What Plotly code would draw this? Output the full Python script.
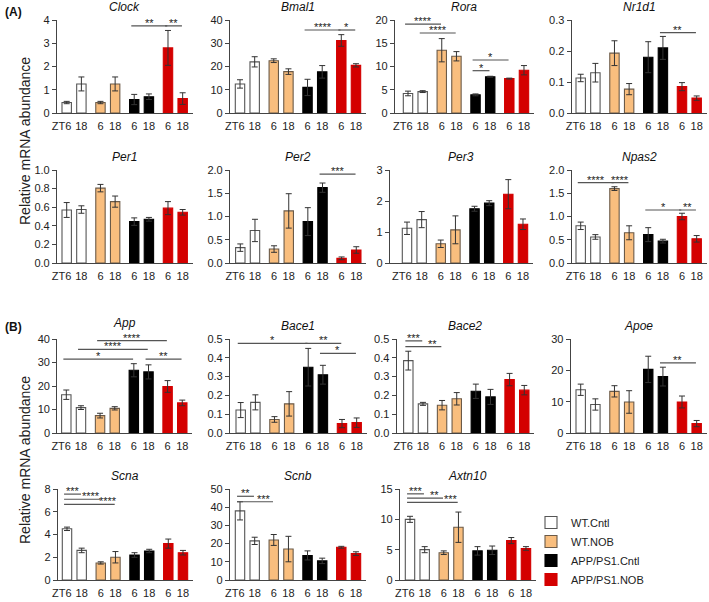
import plotly.graph_objects as go

# ---------------- data ----------------
GROUPS = ["WT.Cntl", "WT.NOB", "APP/PS1.Cntl", "APP/PS1.NOB"]
TIME_LABELS = ["ZT6", "18", "6", "18", "6", "18", "6", "18"]
# bar order: WT6, WT18, NOB6, NOB18, APP6, APP18, APPNOB6, APPNOB18

clock_mean = [0.45, 1.25, 0.45, 1.25, 0.58, 0.70, 2.80, 0.62]
clock_err = [0.05, 0.30, 0.05, 0.30, 0.22, 0.12, 0.75, 0.25]
bmal1_mean = [12.5, 22.0, 22.5, 17.8, 11.0, 17.7, 31.2, 20.5]
bmal1_err = [1.8, 2.2, 0.8, 1.2, 3.5, 2.7, 2.5, 0.7]
rora_mean = [4.2, 4.6, 13.5, 12.2, 3.9, 7.8, 7.4, 9.2]
rora_err = [0.5, 0.2, 2.5, 1.0, 0.2, 0.1, 0.1, 1.0]
nr1d1_mean = [0.113, 0.130, 0.193, 0.077, 0.180, 0.210, 0.085, 0.048]
nr1d1_err = [0.012, 0.030, 0.040, 0.018, 0.050, 0.037, 0.013, 0.007]
per1_mean = [0.57, 0.575, 0.805, 0.66, 0.445, 0.47, 0.59, 0.545]
per1_err = [0.08, 0.04, 0.04, 0.06, 0.04, 0.02, 0.07, 0.03]
per2_mean = [0.33, 0.70, 0.30, 1.12, 0.89, 1.62, 0.10, 0.28]
per2_err = [0.08, 0.24, 0.07, 0.37, 0.30, 0.10, 0.03, 0.07]
per3_mean = [1.12, 1.40, 0.62, 1.07, 1.75, 1.93, 2.22, 1.25]
per3_err = [0.20, 0.26, 0.12, 0.45, 0.08, 0.08, 0.47, 0.17]
npas2_mean = [0.80, 0.56, 1.60, 0.65, 0.61, 0.47, 1.00, 0.52]
npas2_err = [0.08, 0.05, 0.04, 0.15, 0.15, 0.04, 0.07, 0.07]
app_mean = [16.3, 10.8, 7.4, 10.5, 26.7, 26.0, 19.8, 12.8]
app_err = [2.0, 0.8, 1.0, 0.7, 2.8, 3.0, 2.5, 1.2]
bace1_mean = [0.122, 0.163, 0.072, 0.155, 0.350, 0.310, 0.050, 0.055]
bace1_err = [0.040, 0.040, 0.015, 0.065, 0.100, 0.050, 0.022, 0.025]
bace2_mean = [0.385, 0.155, 0.148, 0.182, 0.222, 0.192, 0.284, 0.228]
bace2_err = [0.050, 0.008, 0.025, 0.033, 0.038, 0.040, 0.033, 0.025]
apoe_mean = [13.8, 9.1, 13.3, 9.9, 20.3, 18.0, 9.9, 3.0]
apoe_err = [1.8, 1.8, 1.8, 3.6, 4.2, 3.0, 1.9, 1.0]
scna_mean = [4.5, 2.6, 1.5, 2.0, 2.2, 2.55, 3.2, 2.4]
scna_err = [0.15, 0.2, 0.1, 0.5, 0.2, 0.15, 0.4, 0.2]
scnb_mean = [38.0, 21.5, 22.0, 17.0, 13.5, 10.5, 18.0, 14.5]
scnb_err = [5.0, 2.0, 3.0, 7.0, 2.5, 1.5, 0.5, 1.0]
axtn10_mean = [10.0, 5.0, 4.5, 8.7, 4.8, 4.9, 6.5, 5.2]
axtn10_err = [0.5, 0.5, 0.3, 2.5, 0.7, 0.7, 0.5, 0.3]

# significance: (bar i, bar j, height, label, star placement "mid" or "end")
clock_sig = [(4, 6, 3.75, "**", "mid"), (6, 7, 3.75, "**", "mid")]
bmal1_sig = [(4, 6, 35.7, "****", "mid"), (6, 7, 35.7, "*", "mid")]
rora_sig = [(0, 2, 19.1, "****", "mid"), (1, 3, 17.2, "****", "mid"),
            (4, 6, 11.4, "*", "mid"), (4, 5, 9.1, "*", "mid")]
nr1d1_sig = [(5, 7, 0.259, "**", "mid")]
per1_sig = []
per2_sig = [(5, 7, 1.91, "***", "mid")]
per3_sig = []
npas2_sig = [(0, 2, 1.73, "****", "mid"), (2, 3, 1.73, "****", "mid"),
             (4, 6, 1.14, "*", "mid"), (6, 7, 1.14, "**", "mid")]
app_sig = [(0, 4, 31.4, "*", "mid"), (1, 5, 35.6, "****", "mid"),
           (2, 6, 39.3, "****", "mid"), (5, 7, 31.4, "**", "mid")]
bace1_sig = [(0, 4, 0.477, "*", "mid"), (4, 6, 0.477, "**", "mid"), (5, 7, 0.424, "*", "mid")]
bace2_sig = [(0, 1, 0.49, "***", "mid"), (0, 2, 0.459, "**", "end")]
apoe_sig = [(5, 7, 22.4, "**", "mid")]
scna_sig = [(0, 1, 7.55, "***", "mid"), (0, 2, 7.1, "****", "end"), (0, 3, 6.65, "****", "end")]
scnb_sig = [(0, 1, 46.0, "**", "mid"), (0, 2, 43.0, "***", "end")]
axtn10_sig = [(0, 1, 14.2, "***", "mid"), (0, 2, 13.5, "**", "end"), (0, 3, 12.8, "***", "end")]

# ---------------- layout / style ----------------
W, H = 709, 602
BAR_X = [0, 1, 2.3, 3.3, 4.6, 5.6, 6.9, 7.9]
BAR_W = 0.64
PX_PER_UNIT = 14.68
FILL = ["#ffffff", "#f9be7e", "#000000", "#d40000"]
EDGE = ["#555555", "#6b5a48", "#000000", "#d40000"]
AXC = "#444444"
FONT = "Liberation Sans, Arial, sans-serif"

# name, mean, err, sig, ymax, tickvals, tickfmt, axis_left_px, first_bar_px, top_px, bottom_px, title_gap
panels = [
    ("Clock", clock_mean, clock_err, clock_sig, 4, [0, 1, 2, 3, 4], "d", 57, 66.7, 20, 113, 4),
    ("Bmal1", bmal1_mean, bmal1_err, bmal1_sig, 40, [0, 10, 20, 30, 40], "d", 230, 240, 20, 113, 4),
    ("Rora", rora_mean, rora_err, rora_sig, 20, [0, 5, 10, 15, 20], "d", 395, 408, 20, 113, 4),
    ("Nr1d1", nr1d1_mean, nr1d1_err, nr1d1_sig, 0.3, [0, 0.1, 0.2, 0.3], ".1f", 571.7, 580.7, 20, 113, 4),
    ("Per1", per1_mean, per1_err, per1_sig, 1.0, [0, 0.2, 0.4, 0.6, 0.8, 1.0], ".1f", 57, 66.7, 170, 263, 4),
    ("Per2", per2_mean, per2_err, per2_sig, 2.0, [0, 0.5, 1.0, 1.5, 2.0], ".1f", 230, 240.3, 170, 263, 4),
    ("Per3", per3_mean, per3_err, per3_sig, 3, [0, 1, 2, 3], "d", 390, 407, 170, 263, 4),
    ("Npas2", npas2_mean, npas2_err, npas2_sig, 2.0, [0, 0.5, 1.0, 1.5, 2.0], ".1f", 571.7, 580.7, 170, 263, 4),
    ("App", app_mean, app_err, app_sig, 40, [0, 10, 20, 30, 40], "d", 57.3, 66.3, 339, 433, 7),
    ("Bace1", bace1_mean, bace1_err, bace1_sig, 0.5, [0, 0.1, 0.2, 0.3, 0.4, 0.5], ".1f", 230, 240.7, 339, 433, 4),
    ("Bace2", bace2_mean, bace2_err, bace2_sig, 0.5, [0, 0.1, 0.2, 0.3, 0.4, 0.5], ".1f", 396.7, 408.3, 339, 433, 4),
    ("Apoe", apoe_mean, apoe_err, apoe_sig, 30, [0, 10, 20, 30], "d", 570.7, 580.7, 339, 433, 4),
    ("Scna", scna_mean, scna_err, scna_sig, 8, [0, 2, 4, 6, 8], "d", 58, 67, 489, 580, 4),
    ("Scnb", scnb_mean, scnb_err, scnb_sig, 50, [0, 10, 20, 30, 40, 50], "d", 230, 240, 489, 580, 4),
    ("Axtn10", axtn10_mean, axtn10_err, axtn10_sig, 15, [0, 5, 10, 15], "d", 400, 410, 489, 580, 4),
]

fig = go.Figure()
annotations = []
shapes = []
layout = {}

# first label ("ZT6") sits slightly left so that its digit lines up with the bar
label_pos = [BAR_X[0] - 0.35] + BAR_X[1:]

for k, (name, mean, err, sig, ymax, tv, fmt, axl, fb, top, bot, tgap) in enumerate(panels):
    idx = k + 1
    xa = "x" if idx == 1 else f"x{idx}"
    ya = "y" if idx == 1 else f"y{idx}"
    left = -(fb - axl) / PX_PER_UNIT
    right = BAR_X[-1] + 10 / PX_PER_UNIT
    x0p = axl
    x1p = min(axl + (right - left) * PX_PER_UNIT, W - 1)
    for g in range(4):
        fig.add_trace(go.Bar(
            x=BAR_X[2 * g:2 * g + 2], y=mean[2 * g:2 * g + 2], width=BAR_W,
            name=GROUPS[g], legendgroup=GROUPS[g], showlegend=(k == 0),
            marker=dict(color=FILL[g], line=dict(color=EDGE[g], width=1.1)),
            error_y=dict(type="data", array=err[2 * g:2 * g + 2], visible=True,
                         color="#333333", thickness=1, width=3),
            xaxis=xa, yaxis=ya, hoverinfo="skip",
        ))
    xkey = "xaxis" if idx == 1 else f"xaxis{idx}"
    ykey = "yaxis" if idx == 1 else f"yaxis{idx}"
    layout[xkey] = dict(
        domain=[x0p / W, x1p / W], range=[left, right], anchor=ya, automargin=False,
        showline=True, linecolor=AXC, linewidth=1.2, ticks="outside", ticklen=3,
        tickcolor="rgba(0,0,0,0)", tickvals=label_pos, ticktext=TIME_LABELS, tickangle=0,
        showgrid=False, zeroline=False, tickfont=dict(size=11, color="#222222", family=FONT),
    )
    text_vals = [format(v, fmt) if fmt != "d" else str(int(v)) for v in tv]
    layout[ykey] = dict(
        domain=[1 - bot / H, 1 - top / H], range=[0, ymax], anchor=xa, automargin=False,
        showline=True, linecolor=AXC, linewidth=1.2, ticks="outside", ticklen=4,
        tickcolor=AXC, tickvals=tv, ticktext=text_vals, showgrid=False,
        zeroline=False, tickfont=dict(size=11, color="#222222", family=FONT),
    )
    annotations.append(dict(
        text=f"<i>{name}</i>", x=(x0p + x1p) / 2 / W, y=1 - (top - tgap) / H,
        xref="paper", yref="paper", showarrow=False, xanchor="center", yanchor="bottom",
        font=dict(size=12, color="#111111", family=FONT),
    ))
    for (i, j, yv, lab, mode) in sig:
        xs0 = BAR_X[i] - 0.2
        xs1 = BAR_X[j] - 0.05
        if mode == "end":
            lx = (BAR_X[j - 1] + BAR_X[j]) / 2
        else:
            lx = (xs0 + xs1) / 2
        shapes.append(dict(type="line", xref=xa, yref=ya, x0=xs0, x1=xs1, y0=yv, y1=yv,
                           line=dict(color="#555555", width=1.2)))
        annotations.append(dict(
            text=lab, x=lx, y=yv, xref=xa, yref=ya, showarrow=False,
            xanchor="center", yanchor="bottom", yshift=-5,
            font=dict(size=11, color="#222222", family=FONT),
        ))

# panel letters and shared y titles
annotations += [
    dict(text="<b>(A)</b>", x=3 / W, y=1 - 3 / H, xref="paper", yref="paper", showarrow=False,
         xanchor="left", yanchor="top", font=dict(size=12, color="#111111", family=FONT)),
    dict(text="<b>(B)</b>", x=3 / W, y=1 - 318 / H, xref="paper", yref="paper", showarrow=False,
         xanchor="left", yanchor="top", font=dict(size=12, color="#111111", family=FONT)),
    dict(text="Relative mRNA abundance", x=25 / W, y=1 - 141 / H, xref="paper", yref="paper",
         showarrow=False, textangle=-90, xanchor="center", yanchor="middle",
         font=dict(size=14, color="#222222", family=FONT)),
    dict(text="Relative mRNA abundance", x=25 / W, y=1 - 460 / H, xref="paper", yref="paper",
         showarrow=False, textangle=-90, xanchor="center", yanchor="middle",
         font=dict(size=14, color="#222222", family=FONT)),
]

fig.update_layout(
    width=W, height=H, margin=dict(l=0, r=0, t=0, b=0),
    plot_bgcolor="white", paper_bgcolor="white", barmode="overlay",
    font=dict(family=FONT, size=11, color="#222222"),
    showlegend=True,
    legend=dict(x=531 / W, y=1 - 508 / H, xanchor="left", yanchor="top",
                font=dict(size=11, color="#222222", family=FONT), bgcolor="rgba(0,0,0,0)",
                tracegroupgap=0, itemwidth=30),
    annotations=annotations, shapes=shapes, **layout,
)

fig.write_html("out.html", config={"displayModeBar": False},
               post_script="document.body.style.margin='0';document.body.style.overflow='hidden';")
